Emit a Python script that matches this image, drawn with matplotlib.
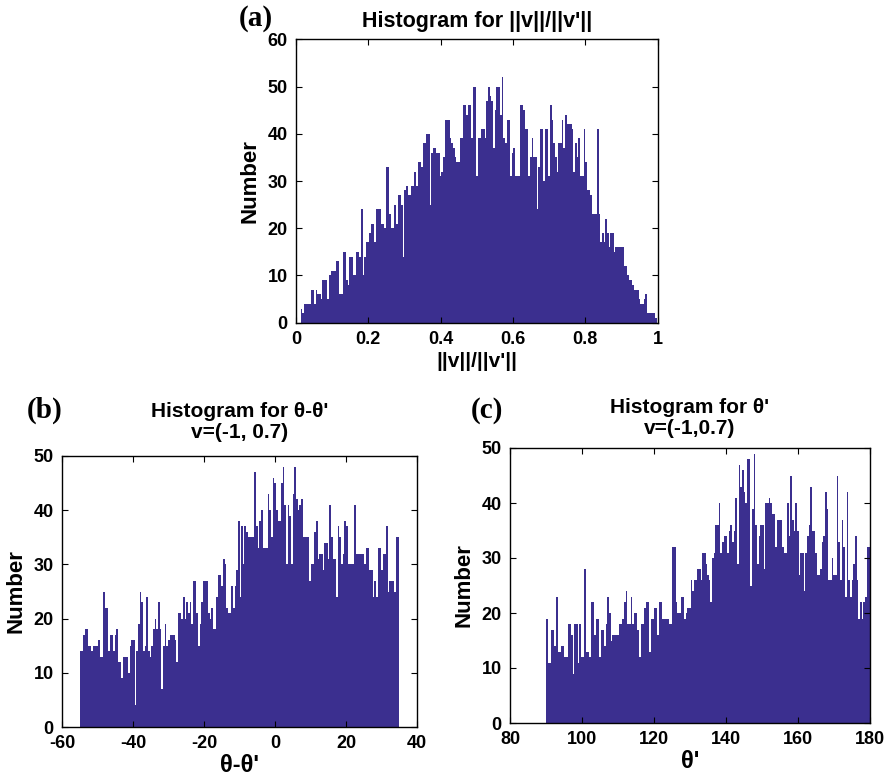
import numpy as np
import matplotlib
matplotlib.use('Agg')
import matplotlib.pyplot as plt

plt.rcParams['font.family'] = ['Liberation Sans', 'DejaVu Sans']
plt.rcParams['font.weight'] = 'bold'
plt.rcParams['axes.unicode_minus'] = False

# (a) counts per bin, ||v||/||v'||
a_lo, a_hi = 0.013, 0.999
counts_a = [3, 2, 4, 4, 4, 4, 7, 7, 4, 7, 6, 6, 5, 9, 9, 9, 5, 10, 11, 11, 11, 13, 13, 6, 6, 15,
            15, 9, 8, 14, 14, 10, 10, 15, 15, 14, 24, 10, 14, 17, 17, 19, 21, 21, 17, 24, 24, 24, 21, 21,
            20, 33, 33, 23, 20, 20, 25, 21, 27, 27, 25, 14, 28, 29, 27, 27, 29, 29, 32, 29, 34, 34,
            33, 38, 38, 40, 40, 25, 36, 37, 37, 36, 36, 31, 32, 35, 43, 43, 43, 39, 38, 37, 35, 34,
            34, 39, 39, 46, 46, 44, 46, 46, 39, 50, 50, 31, 39,
            39, 41, 41, 39, 47, 50, 48, 47, 37, 45, 50, 50, 44, 52, 39, 38, 43, 43, 31, 36, 37, 31,
            31, 31, 46, 46, 45, 41, 41, 31, 35, 39, 35, 35, 24, 33, 41, 41, 30, 41, 41, 31, 46, 43,
            38, 35, 32, 38, 38, 43, 37, 44, 42, 42, 42, 41, 32, 38, 35, 39, 31, 31, 41, 34, 28, 28,
            27, 23, 23, 23, 41, 23, 17, 19, 17, 22, 19, 16, 19, 19, 15, 16, 16, 16, 16, 16, 12, 12,
            10, 9, 9, 8, 7, 7, 7, 5, 4, 4, 5, 6, 2, 2, 2, 2, 2, 1]

# (b) counts per bin, theta - theta'
b_lo, b_hi = -55.0, 35.0
counts_b = [14, 14, 17, 18, 18, 15, 15, 14, 15, 15, 15, 16, 13, 13, 25, 22, 22, 14, 17, 17, 14,
            17, 18, 12, 12, 9, 13, 13, 13, 10, 15, 16, 16, 4, 14, 19, 25, 23, 14, 15, 24, 14, 13,
            15, 18, 20, 18, 23, 18, 7, 15, 19, 15, 16, 17, 17, 17, 16, 12, 21, 21, 20, 24, 20, 23,
            21, 23, 19, 27, 27, 21, 15, 19, 23, 27, 27, 27, 21, 20, 22, 18, 18, 24, 28, 28, 26, 31,
            30, 22, 21, 21, 26, 22, 26, 29, 38, 24,
            37, 30, 37, 36, 35, 35, 35, 35, 47, 37, 33, 38, 40, 33, 33, 33, 43, 40, 35, 46, 45, 40,
            38, 38, 45, 48, 41, 30, 41, 39, 30, 43, 48, 42, 40, 41, 42, 35, 35, 35, 35, 27, 30, 30,
            36, 38, 31, 32, 32, 29, 34, 34, 31, 41, 35, 31, 31, 24, 37, 35, 30, 32, 38, 37, 30, 30,
            30, 30, 41, 32, 32, 32, 32, 32, 30, 33, 33, 29, 29, 24, 27, 24, 33, 33, 29, 32, 32, 37,
            25, 27, 27, 27, 25, 35, 35]

# (c) counts per bin, theta'
c_lo, c_hi = 90.0, 180.0
counts_c = [19, 11, 11, 17, 17, 14, 23, 13, 13, 14, 14, 12, 12, 18, 18, 16, 9, 18, 18, 11, 18,
            12, 12, 28, 13, 13, 12, 22, 22, 16, 19, 19, 12, 17, 17, 14, 18, 23, 20, 15, 16, 16, 16,
            16, 18, 18, 19, 22, 24, 18, 18, 23, 18, 20, 20, 17, 12, 18, 18, 21, 22, 22, 13, 19, 19,
            21, 21, 16, 22, 22, 19, 19, 19, 19, 18, 18, 32, 32, 22, 20, 20, 23, 23, 19, 20, 21, 21,
            26, 24, 26, 26, 28, 28, 26, 31, 31, 29, 27, 26,
            22, 30, 31, 36, 36, 40, 31, 33, 34, 34, 31, 35, 36, 33, 35, 41, 29, 47, 43, 46, 42, 40,
            48, 48, 25, 39, 49, 36, 29, 34, 36, 36, 28, 40, 40, 41, 40, 38, 38, 32, 37, 37, 37, 32,
            31, 31, 40, 34, 45, 37, 35, 40, 35, 27, 31, 31, 24, 31, 34, 36, 43, 35, 35, 31, 27, 27,
            28, 33, 34, 42, 39, 26, 26, 30, 27, 27, 45, 33, 26, 37, 32, 23, 42, 26, 23, 26, 29, 34,
            26, 19, 22, 19, 22, 23, 32, 32]

bar_color = '#3b2f8f'


def draw_hist(ax, counts, lo, hi):
    edges = np.linspace(lo, hi, len(counts) + 1)
    ax.bar(edges[:-1], counts, width=np.diff(edges), align='edge',
           color=bar_color, edgecolor='none', linewidth=0)
    ax.tick_params(direction='in', top=True, right=True, length=4, labelsize=13, pad=6)
    for s in ax.spines.values():
        s.set_linewidth(1.0)
    for t in ax.get_xticklabels() + ax.get_yticklabels():
        t.set_fontweight('bold')


fig = plt.figure(figsize=(8.93, 7.79), dpi=100)
W, H = 893.0, 779.0

ax_a = fig.add_axes([296 / W, 1 - 322.7 / H, 361.5 / W, 283.4 / H])
ax_b = fig.add_axes([62 / W, 1 - 727 / H, 355 / W, 271 / H])
ax_c = fig.add_axes([510 / W, 1 - 723 / H, 360 / W, 275 / H])

draw_hist(ax_a, counts_a, a_lo, a_hi)
ax_a.set_xlim(0, 1)
ax_a.set_ylim(0, 60)
ax_a.set_xticks([0, 0.2, 0.4, 0.6, 0.8, 1])
ax_a.set_xticklabels(['0', '0.2', '0.4', '0.6', '0.8', '1'])
ax_a.set_yticks(range(0, 61, 10))
ax_a.set_title("Histogram for ||v||/||v'||", fontsize=15.5, fontweight='bold', pad=9)
ax_a.set_xlabel("||v||/||v'||", fontsize=15, fontweight='bold', labelpad=3)
ax_a.set_ylabel('Number', fontsize=16, fontweight='bold', labelpad=5)

draw_hist(ax_b, counts_b, b_lo, b_hi)
ax_b.set_xlim(-60, 40)
ax_b.set_ylim(0, 50)
ax_b.set_xticks(range(-60, 41, 20))
ax_b.set_yticks(range(0, 51, 10))
ax_b.set_title("Histogram for θ-θ'\nv=(-1, 0.7)", fontsize=15, fontweight='bold', pad=13,
               linespacing=1.15)
ax_b.set_xlabel("θ-θ'", fontsize=17, fontweight='bold', labelpad=1)
ax_b.set_ylabel('Number', fontsize=16, fontweight='bold', labelpad=5)

draw_hist(ax_c, counts_c, c_lo, c_hi)
ax_c.set_xlim(80, 180)
ax_c.set_ylim(0, 50)
ax_c.set_xticks(range(80, 181, 20))
ax_c.set_yticks(range(0, 51, 10))
ax_c.set_title("Histogram for θ'\nv=(-1,0.7)", fontsize=15, fontweight='bold', pad=10,
               linespacing=1.15)
ax_c.set_xlabel("θ'", fontsize=17, fontweight='bold', labelpad=1)
ax_c.set_ylabel('Number', fontsize=16, fontweight='bold', labelpad=5)

# panel letters
fig.text(256 / W, 1 - 18 / H, '(a)', fontsize=21, fontweight='bold',
         family='Liberation Serif', ha='center', va='center')
fig.text(45 / W, 1 - 410 / H, '(b)', fontsize=21, fontweight='bold',
         family='Liberation Serif', ha='center', va='center')
fig.text(487 / W, 1 - 410 / H, '(c)', fontsize=21, fontweight='bold',
         family='Liberation Serif', ha='center', va='center')

fig.savefig('out.png', dpi=100)
